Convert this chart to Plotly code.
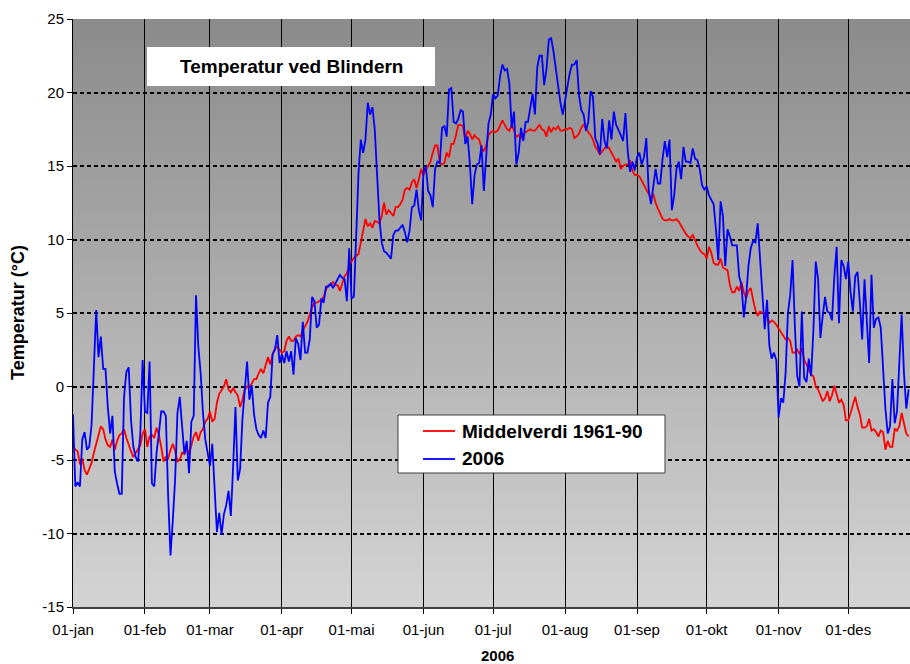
import base64
import struct
import zlib

import pandas as pd
import plotly.graph_objects as go

# ---------------- data (daily mean temperature, °C) ----------------
obs_jan = [-1.9, -6.8, -6.5, -6.8, -3.6, -3.1, -4.3, -4.1, -2.6, 1.1, 5.2, 2.0, 3.4, 1.2, 1.2, -1.4,
           -3.2, -2.0, -5.8, -6.6, -7.3, -7.3, -0.7, 1.0, 1.3, -2.3, -4.1, -4.8, -5.1, -3.2, 1.8]
obs_feb = [-1.7, -1.8, 1.7, -6.6, -6.8, -4.5, -3.2, -1.7, -1.7, -2.0, -7.5, -11.5, -9.1, -6.3, -1.8,
           -0.7, -2.7, -4.6, -3.7, -5.9, -2.4, -2.0, 6.2, 2.7, 0.9, -1.8, -3.6, -4.6]
obs_mar = [-5.4, -3.9, -7.4, -9.9, -8.6, -10.1, -8.7, -8.1, -7.1, -8.8, -5.4, -1.4, -6.4, -5.6, -2.2,
           0.0, 1.7, -0.9, 0.1, -1.9, -2.9, -3.3, -3.5, -3.0, -3.5, -1.1, -0.7, 2.2, 2.5, 3.5, 1.6]
obs_apr = [2.2, 1.6, 2.4, 1.7, 2.4, 0.8, 3.3, 2.9, 1.8, 4.4, 2.3, 2.3, 3.2, 6.1, 5.8, 4.0, 4.2, 6.0,
           5.7, 6.8, 6.8, 7.0, 6.7, 7.0, 7.3, 7.6, 7.4, 7.3, 5.8, 9.4]
obs_mai = [6.0, 6.1, 10.2, 14.5, 16.8, 15.9, 16.8, 19.3, 18.5, 19.0, 17.5, 13.9, 11.4, 9.8, 9.2, 9.1,
           8.9, 8.7, 10.3, 10.6, 10.6, 10.8, 11.0, 10.5, 9.8, 10.6, 12.2, 12.3, 13.4, 12.0, 11.3]
obs_jun = [14.6, 15.0, 13.3, 13.0, 12.2, 14.8, 15.3, 15.2, 17.6, 17.7, 17.0, 20.2, 20.3, 18.0, 17.9,
           18.2, 18.8, 18.7, 16.5, 17.0, 15.1, 12.4, 14.4, 15.1, 15.2, 16.4, 13.3, 15.5, 17.9, 18.5]
obs_jul = [19.9, 19.6, 19.8, 21.1, 21.9, 21.5, 21.6, 20.6, 17.6, 18.7, 15.1, 15.9, 17.6, 16.7, 18.0,
           18.0, 19.1, 19.9, 18.5, 21.7, 22.5, 22.5, 20.5, 21.6, 23.6, 23.7, 22.8, 21.6, 20.7, 19.3, 18.5]
obs_aug = [19.6, 20.4, 21.3, 21.9, 21.9, 22.2, 19.8, 18.8, 18.5, 17.4, 18.0, 20.1, 19.7, 16.9, 16.5,
           15.8, 18.2, 16.7, 16.2, 18.1, 16.8, 18.7, 17.8, 17.5, 17.1, 16.7, 18.6, 16.0, 14.6, 15.3, 14.7]
obs_sep = [15.6, 15.9, 15.1, 15.6, 16.9, 13.4, 12.4, 13.5, 14.8, 13.8, 13.8, 15.5, 16.7, 15.6, 16.8,
           12.0, 13.0, 14.8, 15.3, 14.1, 16.3, 15.3, 15.3, 15.2, 16.2, 15.5, 15.4, 14.8, 13.7, 13.4]
obs_okt = [13.6, 13.0, 12.7, 12.4, 10.7, 8.6, 12.6, 11.6, 8.2, 10.7, 10.2, 9.6, 9.6, 9.6, 7.5, 6.9,
           4.7, 6.1, 8.2, 9.4, 9.9, 9.8, 11.1, 8.6, 5.6, 3.9, 5.9, 2.8, 1.9, 2.3, 1.8]
obs_nov = [-2.1, -0.8, -1.1, 0.9, 5.0, 6.25, 8.6, 4.1, 0.7, 0.0, 5.1, 0.6, 0.3, 1.9, 0.7, 3.9, 8.5,
           7.3, 3.3, 4.8, 6.1, 5.1, 5.0, 4.5, 7.5, 9.5, 4.3, 8.6, 8.2, 7.3]
obs_des = [8.5, 6.4, 5.1, 7.5, 7.8, 5.7, 3.2, 7.3, 4.5, 1.6, 7.6, 4.0, 4.6, 4.7, 4.0, 0.9, -1.5,
           -3.2, -2.7, 0.5, -2.5, -1.7, 1.8, 4.9, 0.9, -1.5, -0.2]

norm_jan = [-4.0, -4.3, -4.4, -5.3, -4.9, -5.7, -6.0, -5.6, -5.2, -4.5, -3.9, -3.4, -2.7, -2.9, -3.6,
            -4.0, -4.1, -3.6, -4.3, -3.7, -3.3, -3.2, -2.9, -3.5, -4.0, -4.4, -4.8, -4.5, -4.2, -4.0, -3.2]
norm_feb = [-2.9, -4.1, -3.4, -3.3, -3.5, -2.8, -3.3, -4.1, -5.1, -4.8, -4.9, -4.3, -3.9, -4.4, -5.1,
            -5.0, -4.5, -4.6, -4.2, -4.6, -3.9, -3.4, -3.1, -3.7, -3.1, -2.9, -2.4, -2.2]
norm_mar = [-1.7, -2.4, -2.2, -1.1, -0.5, -0.2, 0.0, 0.5, -0.2, -0.4, -0.1, -0.4, -0.6, -1.4, -0.9,
            -0.2, 0.0, 0.0, 0.2, 0.5, 0.5, 0.9, 1.2, 0.9, 1.4, 2.0, 1.5, 2.2, 2.6, 2.7, 2.5]
norm_apr = [2.3, 2.4, 3.1, 3.4, 3.1, 3.1, 3.4, 3.5, 3.4, 3.8, 4.1, 4.4, 4.9, 5.4, 5.7, 5.7, 5.8, 5.9,
            6.1, 6.6, 6.9, 6.9, 7.1, 6.9, 6.9, 6.5, 7.0, 7.5, 7.7, 8.2]
norm_mai = [8.5, 8.75, 8.9, 9.0, 9.8, 10.5, 11.4, 10.9, 11.1, 10.8, 11.25, 11.2, 11.1, 11.6, 12.5,
            11.7, 12.0, 11.8, 11.6, 12.2, 12.2, 12.4, 12.7, 13.4, 13.5, 13.4, 13.9, 14.1, 13.5, 14.1, 14.8]
norm_jun = [14.4, 14.7, 15.0, 15.3, 15.9, 16.4, 16.4, 15.2, 15.1, 15.2, 15.9, 15.6, 16.5, 16.5, 17.1,
            17.8, 17.8, 17.7, 16.8, 17.4, 17.2, 16.8, 17.1, 16.9, 16.8, 16.2, 16.0, 16.4, 17.1, 17.3]
norm_jul = [17.4, 17.3, 17.4, 17.8, 18.1, 17.8, 17.5, 17.4, 17.8, 17.4, 17.0, 17.1, 16.9, 17.1, 17.3,
            17.4, 17.5, 17.4, 17.4, 17.6, 17.8, 17.5, 17.4, 17.0, 17.7, 17.3, 17.6, 17.5, 17.7, 17.4, 17.4]
norm_aug = [17.5, 17.5, 17.6, 17.5, 16.9, 17.0, 17.2, 17.6, 17.8, 17.5, 17.3, 17.1, 16.8, 16.3, 16.1,
            15.8, 16.0, 16.2, 16.4, 16.2, 15.9, 15.6, 15.3, 15.5, 14.8, 15.0, 15.1, 15.1, 15.4, 14.7, 14.4]
norm_sep = [14.4, 14.3, 14.0, 13.7, 13.3, 13.0, 12.8, 13.1, 12.5, 12.1, 11.8, 11.4, 11.3, 11.3, 11.4,
            11.3, 11.3, 11.4, 11.2, 10.9, 10.7, 10.4, 10.2, 10.1, 10.3, 9.9, 9.6, 9.3, 9.1, 9.0]
norm_okt = [8.7, 9.5, 9.1, 8.4, 8.3, 8.3, 8.7, 8.1, 8.0, 7.9, 6.9, 6.4, 6.4, 6.8, 6.5, 7.1, 6.4, 6.0,
            6.5, 6.7, 5.9, 5.2, 4.8, 5.1, 5.0, 5.0, 4.8, 4.3, 4.5, 4.4, 4.2]
norm_nov = [3.9, 3.7, 3.45, 3.2, 3.3, 3.1, 2.3, 2.3, 2.5, 2.2, 2.6, 1.8, 1.5, 1.1, 0.8, 0.7, 0.0, -0.2,
            -0.6, -1.0, -0.8, -0.3, -1.0, -0.6, 0.05, -0.6, -1.1, -0.9, -1.25, -2.3]
norm_des = [-2.3, -1.8, -1.25, -0.7, -1.4, -1.9, -2.8, -2.8, -2.7, -2.2, -3.0, -2.9, -3.1, -3.4, -3.0,
            -3.1, -4.3, -3.7, -4.1, -4.1, -2.9, -3.0, -2.7, -1.8, -2.5, -3.2, -3.4]

tick_dates = ["2006-01-01", "2006-02-01", "2006-03-01", "2006-04-01", "2006-05-01", "2006-06-01",
              "2006-07-01", "2006-08-01", "2006-09-01", "2006-10-01", "2006-11-01", "2006-12-01"]
tick_labels = ["01-jan", "01-feb", "01-mar", "01-apr", "01-mai", "01-jun",
               "01-jul", "01-aug", "01-sep", "01-okt", "01-nov", "01-des"]
y_ticks = [-15, -10, -5, 0, 5, 10, 15, 20, 25]
y_tick_labels = ["-15", "-10", "-5", "0", "5", "10", "15", "20", "25"]

series_2006 = (obs_jan + obs_feb + obs_mar + obs_apr + obs_mai + obs_jun + obs_jul + obs_aug
               + obs_sep + obs_okt + obs_nov + obs_des)
series_norm = (norm_jan + norm_feb + norm_mar + norm_apr + norm_mai + norm_jun + norm_jul + norm_aug
               + norm_sep + norm_okt + norm_nov + norm_des)
dates = pd.date_range("2006-01-01", periods=len(series_2006), freq="D")

FONT = "Liberation Sans, Arial, sans-serif"
W, H = 910, 664
ML, MR, MT, MB = 73, 0, 19, 57
PW, PH = W - ML - MR, H - MT - MB


def px(x):
    return (x - ML) / PW


def py(y):
    return (H - MB - y) / PH


def gradient_png(top, bottom, h=256):
    raw = b"".join(b"\x00" + bytes([round(top + (bottom - top) * i / (h - 1))]) for i in range(h))

    def chunk(t, d):
        c = struct.pack(">I", len(d)) + t + d
        return c + struct.pack(">I", zlib.crc32(t + d) & 0xFFFFFFFF)

    png = (b"\x89PNG\r\n\x1a\n"
           + chunk(b"IHDR", struct.pack(">IIBBBBB", 1, h, 8, 0, 0, 0, 0))
           + chunk(b"IDAT", zlib.compress(raw))
           + chunk(b"IEND", b""))
    return "data:image/png;base64," + base64.b64encode(png).decode()


fig = go.Figure()
fig.add_trace(go.Scatter(x=dates, y=series_norm, mode="lines", name="Middelverdi 1961-90",
                         line=dict(color="#ff0000", width=1.8)))
fig.add_trace(go.Scatter(x=dates, y=series_2006, mode="lines", name="2006",
                         line=dict(color="#0000ff", width=1.8)))

shapes = [
    # title box
    dict(type="rect", xref="paper", yref="paper", x0=px(147), x1=px(435), y0=py(86), y1=py(47),
         fillcolor="white", line=dict(width=0), layer="above"),
    # legend box
    dict(type="rect", xref="paper", yref="paper", x0=px(398), x1=px(665), y0=py(473), y1=py(415),
         fillcolor="white", line=dict(color="#404040", width=1), layer="above"),
    dict(type="line", xref="paper", yref="paper", x0=px(423), x1=px(455), y0=py(431), y1=py(431),
         line=dict(color="#ff0000", width=1.8), layer="above"),
    dict(type="line", xref="paper", yref="paper", x0=px(423), x1=px(455), y0=py(459), y1=py(459),
         line=dict(color="#0000ff", width=1.8), layer="above"),
]
annotations = [
    dict(text="<b>Temperatur ved Blindern</b>", xref="paper", yref="paper", x=px(291), y=py(67),
         showarrow=False, xanchor="center", yanchor="middle", font=dict(family=FONT, size=19, color="black")),
    dict(text="<b>Middelverdi 1961-90</b>", xref="paper", yref="paper", x=px(460), y=py(431),
         showarrow=False, xanchor="left", yanchor="middle", font=dict(family=FONT, size=19, color="black")),
    dict(text="<b>2006</b>", xref="paper", yref="paper", x=px(460), y=py(459),
         showarrow=False, xanchor="left", yanchor="middle", font=dict(family=FONT, size=19, color="black")),
    dict(text="<b>Temperatur (°C)</b>", xref="paper", yref="paper", x=px(18), y=py(312),
         showarrow=False, textangle=-90, xanchor="center", yanchor="middle",
         font=dict(family=FONT, size=18, color="black")),
    dict(text="<b>2006</b>", xref="paper", yref="paper", x=px(497), y=py(655),
         showarrow=False, xanchor="center", yanchor="middle", font=dict(family=FONT, size=15, color="black")),
]

fig.update_layout(
    width=W, height=H,
    margin=dict(l=ML, r=MR, t=MT, b=MB, pad=0),
    paper_bgcolor="white",
    plot_bgcolor="rgba(0,0,0,0)",
    showlegend=False,
    shapes=shapes,
    annotations=annotations,
    images=[dict(source=gradient_png(139, 212), xref="paper", yref="paper", x=0, y=1,
                 sizex=1, sizey=1, xanchor="left", yanchor="top", sizing="stretch", layer="below")],
    font=dict(family=FONT, size=15, color="black"),
)
fig.update_xaxes(
    type="date", range=["2006-01-01", "2006-12-27 14:24"],
    tickmode="array", tickvals=tick_dates, ticktext=tick_labels,
    ticks="outside", ticklen=5, tickcolor="black", tickwidth=1,
    tickfont=dict(family=FONT, size=15, color="black"), ticklabelstandoff=3,
    showline=True, linecolor="#404040", linewidth=2,
    showgrid=True, gridcolor="black", gridwidth=1,
    zeroline=False, fixedrange=True,
)
fig.update_yaxes(
    range=[-15, 25], tickmode="array", tickvals=y_ticks, ticktext=y_tick_labels,
    ticks="outside", ticklen=5, tickcolor="black", tickwidth=1,
    tickfont=dict(family=FONT, size=15, color="black"),
    showline=True, linecolor="black", linewidth=1,
    showgrid=True, gridcolor="black", gridwidth=2, griddash="4px,3px",
    zeroline=False, fixedrange=True,
)

fig.write_html("out.html", config={"displayModeBar": False},
               post_script="document.body.style.margin='0';document.body.style.overflow='hidden';")
